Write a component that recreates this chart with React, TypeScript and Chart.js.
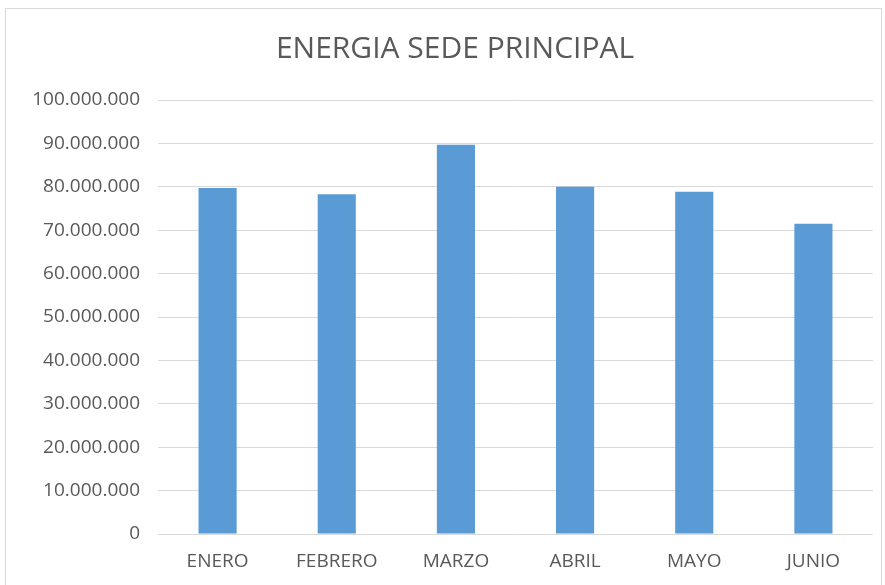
import React, { useEffect, useRef } from "react";
import { Chart, registerables } from "chart.js";

Chart.register(...registerables);

const categories = ["ENERO", "FEBRERO", "MARZO", "ABRIL", "MAYO", "JUNIO"];
const energia = [79700000, 78300000, 89700000, 80000000, 78850000, 71500000];
const chartTitle = "ENERGIA SEDE PRINCIPAL";

const FONT = "'Open Sans', sans-serif";
const TEXT = "#595959";

function fmt(v: number): string {
  return String(Math.round(v)).replace(/\B(?=(\d{3})+(?!\d))/g, ".");
}

const titlePlugin = {
  id: "customTitle",
  afterDraw(chart: any) {
    const ctx = chart.ctx;
    ctx.save();
    ctx.font = `normal 30px ${FONT}`;
    ctx.fillStyle = TEXT;
    ctx.textAlign = "center";
    ctx.textBaseline = "middle";
    ctx.fillText(chartTitle, 455, 49);
    ctx.restore();
  },
};

export default function App() {
  const ref = useRef<HTMLCanvasElement | null>(null);
  useEffect(() => {
    if (!ref.current) return;
    const chart = new Chart(ref.current, {
      type: "bar",
      data: {
        labels: categories,
        datasets: [
          {
            label: chartTitle,
            data: energia,
            backgroundColor: "#5B9BD5",
            borderWidth: 0,
            barPercentage: 0.64,
            categoryPercentage: 0.5,
          },
        ],
      },
      plugins: [titlePlugin],
      options: {
        responsive: false,
        animation: false,
        layout: { padding: { left: 0, right: 12, top: 100, bottom: 11 } },
        plugins: {
          legend: { display: false },
          tooltip: { enabled: false },
          title: { display: false },
        },
        scales: {
          x: {
            grid: { display: false, drawTicks: false },
            border: { display: false },
            ticks: { color: TEXT, font: { family: FONT, size: 19 }, padding: 16 },
            afterFit: (s: any) => {
              s.height = 40;
            },
          },
          y: {
            min: 0,
            max: 100000000,
            grid: { color: "#d9d9d9", lineWidth: 1, drawTicks: false },
            border: { display: false },
            ticks: {
              stepSize: 10000000,
              color: TEXT,
              font: { family: FONT, size: 19 },
              padding: 18,
              callback: (v: any) => fmt(Number(v)),
            },
            afterFit: (s: any) => {
              s.width = 158;
            },
          },
        },
      },
    });
    return () => chart.destroy();
  }, []);
  return (
    <div style={{ position: "absolute", left: 0, top: 0, width: 885, height: 585, background: "#fff", overflow: "hidden" }}>
      <div
        style={{
          position: "absolute",
          left: 5,
          top: 8,
          width: 877,
          height: 600,
          border: "1px solid #d9d9d9",
          boxSizing: "border-box",
        }}
      />
      <canvas ref={ref} width={885} height={585} style={{ position: "absolute", left: 0, top: 0 }} />
    </div>
  );
}
